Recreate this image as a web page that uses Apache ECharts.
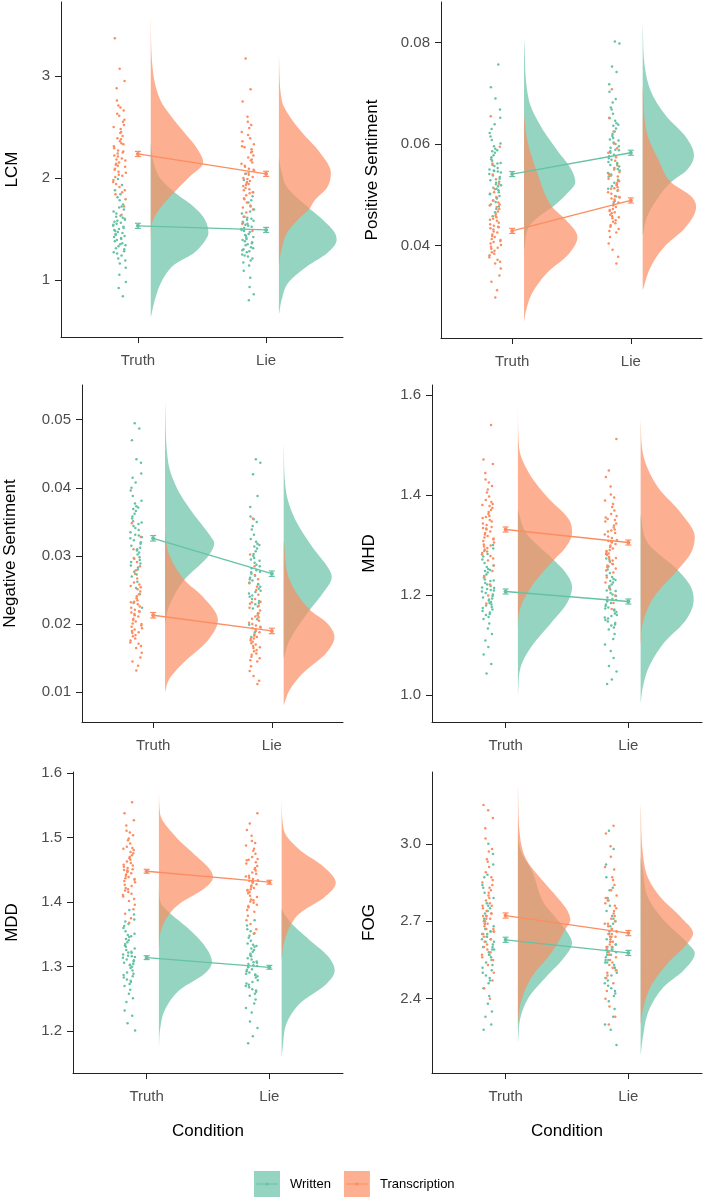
<!DOCTYPE html>
<html><head><meta charset="utf-8">
<script src="https://cdn.jsdelivr.net/npm/echarts@6/dist/echarts.min.js"></script>
<style>html,body{margin:0;padding:0;background:#fff}#c{width:703px;height:1199px}</style>
</head><body><div id="c"></div>
<script>
// ---------------- DATA ----------------
const conditions = ['Truth', 'Lie'];
const groups = ['Written', 'Transcription'];
const measures = ['LCM', 'Positive Sentiment', 'Negative Sentiment', 'MHD', 'MDD', 'FOG'];
const yTickValues = [[1,2,3],[0.04,0.06,0.08],[0.01,0.02,0.03,0.04,0.05],[1.0,1.2,1.4,1.6],[1.2,1.3,1.4,1.5,1.6],[2.4,2.7,3.0]];
const yTickDecimals = [0,2,2,1,1,1];
const yLimits = [[0.44,3.725],[0.0218,0.088],[0.00563,0.0551],[0.946,1.62],[1.135,1.602],[2.112,3.278]];

// group means (Truth, Lie) and standard errors
const meanWritten = [[1.53,1.49],[0.0541,0.0583],[0.0326,0.0274],[1.207,1.187],[1.314,1.299],[2.628,2.577]];
const meanTranscription = [[2.235,2.04],[0.0429,0.0489],[0.0213,0.0190],[1.331,1.305],[1.448,1.431],[2.722,2.654]];
const seWritten = [[0.025,0.025],[0.0005,0.0005],[0.0004,0.0004],[0.005,0.005],[0.003,0.003],[0.01,0.01]];
const seTranscription = [[0.025,0.025],[0.0005,0.0005],[0.0004,0.0004],[0.005,0.005],[0.003,0.003],[0.01,0.01]];

// raw observations (read from the jittered strips)
const LCM_written_truth = [1.53,1.41,1.62,1.28,1.71,1.49,1.36,1.58,1.19,1.84,1.45,1.52,1.33,1.67,1.24,1.55,1.43,1.78,1.38,1.61,1.47,1.12,1.56,1.31,1.69,1.50,1.42,1.93,1.26,1.59,1.35,1.48,1.74,1.21,1.54,1.40,1.65,1.30,1.05,1.57,1.46,1.81,1.34,1.63,1.44,1.51,0.92,1.27,1.72,1.39,1.60,1.16,1.88,0.84,1.99,0.98];
const LCM_written_lie = [1.48,1.36,1.59,1.25,1.67,1.44,1.31,1.53,1.17,1.78,1.41,1.50,1.28,1.62,1.21,1.55,1.39,1.72,1.34,1.58,1.45,1.09,1.52,1.27,1.65,1.47,1.38,1.86,1.23,1.56,1.32,1.43,1.69,1.14,1.51,1.37,1.61,1.29,1.02,1.54,1.42,1.76,1.30,1.60,1.40,1.49,0.93,1.24,1.82,1.35,1.57,1.19,2.04,0.86,0.80,1.98];
const LCM_transc_truth = [2.21,2.05,2.38,1.94,2.52,2.15,2.29,1.86,2.63,2.11,2.44,2.01,2.26,2.71,1.98,2.34,2.18,2.57,1.91,2.08,2.41,2.24,1.79,2.48,2.13,2.66,2.03,2.31,2.19,2.76,1.88,2.36,2.09,2.55,2.27,1.96,2.45,2.14,1.72,2.61,2.22,2.02,2.39,2.17,2.69,1.84,2.33,2.06,2.50,1.64,2.88,2.95,3.07,3.37,2.25,2.12];
const LCM_transc_lie = [2.03,1.88,2.18,1.76,2.31,1.97,2.11,1.69,2.42,1.92,2.25,1.83,2.07,2.49,1.79,2.15,1.99,2.36,1.73,1.90,2.22,2.05,1.62,2.28,1.95,2.45,1.85,2.12,2.01,2.55,1.71,2.17,1.93,2.33,2.09,1.80,2.26,1.96,1.55,2.39,2.04,1.86,2.20,2.00,2.52,1.66,2.14,1.89,2.30,1.48,2.60,2.75,2.87,3.17,2.08,1.94];

const POS_written_truth = [.0541,.0512,.0567,.0498,.0583,.0529,.0553,.0489,.0601,.0521,.0574,.0505,.0547,.0622,.0494,.0559,.0535,.0591,.0481,.0517,.0578,.0544,.0472,.0608,.0526,.0639,.0502,.0562,.0538,.0652,.0486,.0570,.0509,.0596,.0550,.0493,.0586,.0532,.0466,.0615,.0546,.0514,.0563,.0524,.0630,.0477,.0557,.0501,.0588,.0458,.0668,.0690,.0712,.0757,.0548,.0519];
const POS_written_lie = [.0583,.0551,.0612,.0536,.0631,.0569,.0596,.0524,.0651,.0561,.0620,.0543,.0589,.0672,.0530,.0603,.0576,.0641,.0517,.0556,.0625,.0586,.0508,.0660,.0565,.0689,.0540,.0607,.0579,.0703,.0521,.0616,.0548,.0646,.0593,.0528,.0636,.0572,.0497,.0668,.0588,.0553,.0609,.0563,.0682,.0512,.0600,.0538,.0638,.0486,.0718,.0742,.0753,.0798,.0802,.0559];
const POS_transc_truth = [.0428,.0401,.0456,.0387,.0472,.0417,.0442,.0372,.0489,.0409,.0463,.0394,.0436,.0505,.0381,.0449,.0422,.0481,.0365,.0404,.0467,.0432,.0355,.0496,.0413,.0522,.0390,.0451,.0426,.0540,.0368,.0459,.0398,.0485,.0439,.0377,.0476,.0419,.0341,.0511,.0434,.0396,.0453,.0411,.0531,.0329,.0445,.0384,.0479,.0312,.0562,.0595,.0298,.0655,.0437,.0407];
const POS_transc_lie = [.0488,.0461,.0515,.0447,.0532,.0476,.0502,.0433,.0550,.0468,.0523,.0454,.0495,.0567,.0440,.0509,.0482,.0541,.0426,.0464,.0527,.0491,.0417,.0558,.0472,.0583,.0450,.0512,.0485,.0601,.0429,.0519,.0458,.0545,.0498,.0437,.0536,.0479,.0404,.0574,.0493,.0456,.0513,.0470,.0592,.0392,.0505,.0444,.0538,.0378,.0625,.0652,.0365,.0708,.0496,.0466];

const NEG_written_truth = [.0326,.0302,.0351,.0289,.0366,.0315,.0338,.0277,.0381,.0308,.0358,.0294,.0331,.0396,.0283,.0344,.0320,.0373,.0270,.0305,.0362,.0328,.0262,.0388,.0312,.0408,.0291,.0347,.0323,.0421,.0273,.0355,.0298,.0377,.0335,.0280,.0369,.0318,.0253,.0400,.0330,.0296,.0349,.0310,.0415,.0244,.0341,.0286,.0371,.0231,.0437,.0442,.0470,.0487,.0495,.0224];
const NEG_written_lie = [.0274,.0252,.0297,.0240,.0311,.0264,.0285,.0229,.0325,.0258,.0303,.0245,.0279,.0339,.0234,.0290,.0268,.0318,.0223,.0255,.0307,.0276,.0216,.0331,.0261,.0350,.0242,.0293,.0271,.0358,.0226,.0300,.0249,.0321,.0282,.0231,.0314,.0266,.0207,.0344,.0277,.0247,.0295,.0259,.0354,.0199,.0287,.0237,.0316,.0188,.0372,.0388,.0420,.0437,.0442,.0181];
const NEG_transc_truth = [.0213,.0194,.0235,.0182,.0248,.0204,.0224,.0171,.0261,.0198,.0241,.0187,.0218,.0274,.0176,.0229,.0208,.0254,.0165,.0196,.0244,.0215,.0158,.0267,.0201,.0285,.0184,.0232,.0211,.0297,.0168,.0238,.0190,.0258,.0221,.0173,.0251,.0206,.0151,.0279,.0217,.0188,.0233,.0200,.0291,.0145,.0226,.0179,.0256,.0139,.0310,.0328,.0132,.0348,.0219,.0192];
const NEG_transc_lie = [.0190,.0172,.0210,.0160,.0224,.0181,.0200,.0150,.0237,.0176,.0216,.0165,.0195,.0250,.0155,.0205,.0185,.0230,.0145,.0174,.0220,.0192,.0138,.0243,.0179,.0260,.0162,.0208,.0188,.0272,.0147,.0213,.0168,.0233,.0198,.0152,.0227,.0183,.0131,.0255,.0194,.0166,.0211,.0178,.0266,.0124,.0202,.0157,.0232,.0117,.0285,.0302,.0112,.0355,.0196,.0170];

const MHD_written_truth = [1.207,1.184,1.231,1.171,1.245,1.195,1.218,1.160,1.259,1.189,1.238,1.176,1.212,1.271,1.165,1.224,1.201,1.252,1.152,1.186,1.241,1.209,1.143,1.264,1.193,1.282,1.174,1.228,1.204,1.293,1.156,1.235,1.181,1.256,1.215,1.162,1.248,1.198,1.133,1.277,1.210,1.179,1.229,1.191,1.288,1.122,1.221,1.168,1.250,1.109,1.300,1.096,1.081,1.062,1.043,1.214];
const MHD_written_lie = [1.187,1.163,1.211,1.150,1.225,1.175,1.198,1.139,1.239,1.169,1.218,1.155,1.192,1.251,1.144,1.204,1.181,1.232,1.131,1.166,1.221,1.189,1.122,1.244,1.173,1.262,1.153,1.208,1.184,1.273,1.135,1.215,1.160,1.236,1.195,1.141,1.228,1.178,1.112,1.257,1.190,1.158,1.209,1.171,1.268,1.101,1.201,1.147,1.230,1.088,1.282,1.074,1.058,1.047,1.031,1.022];
const MHD_transc_truth = [1.331,1.305,1.358,1.291,1.374,1.318,1.343,1.278,1.390,1.311,1.366,1.297,1.336,1.405,1.284,1.350,1.324,1.382,1.269,1.308,1.370,1.333,1.259,1.397,1.315,1.418,1.294,1.354,1.327,1.431,1.273,1.362,1.301,1.386,1.340,1.281,1.378,1.321,1.248,1.411,1.334,1.299,1.356,1.313,1.425,1.236,1.347,1.287,1.380,1.221,1.444,1.462,1.199,1.471,1.540,1.183];
const MHD_transc_lie = [1.305,1.280,1.331,1.266,1.347,1.293,1.317,1.253,1.362,1.286,1.339,1.272,1.310,1.376,1.259,1.324,1.299,1.355,1.245,1.283,1.343,1.307,1.235,1.369,1.290,1.389,1.269,1.327,1.302,1.401,1.249,1.335,1.276,1.358,1.314,1.256,1.350,1.296,1.225,1.382,1.308,1.274,1.329,1.288,1.395,1.214,1.321,1.262,1.352,1.199,1.417,1.436,1.184,1.449,1.512,1.172];

const MDD_written_truth = [1.314,1.298,1.331,1.289,1.341,1.306,1.321,1.280,1.351,1.302,1.335,1.285,1.317,1.360,1.276,1.326,1.310,1.346,1.270,1.300,1.338,1.315,1.264,1.355,1.304,1.366,1.283,1.323,1.311,1.373,1.273,1.333,1.294,1.349,1.319,1.278,1.343,1.308,1.258,1.363,1.316,1.291,1.328,1.303,1.370,1.251,1.322,1.287,1.347,1.245,1.381,1.388,1.232,1.224,1.212,1.201];
const MDD_written_lie = [1.299,1.283,1.316,1.274,1.326,1.291,1.306,1.265,1.336,1.287,1.320,1.270,1.302,1.345,1.261,1.311,1.295,1.331,1.255,1.285,1.323,1.300,1.249,1.340,1.289,1.351,1.268,1.308,1.296,1.358,1.258,1.318,1.279,1.334,1.304,1.263,1.328,1.293,1.243,1.348,1.301,1.276,1.313,1.288,1.355,1.236,1.307,1.272,1.332,1.229,1.364,1.372,1.215,1.205,1.192,1.181];
const MDD_transc_truth = [1.448,1.431,1.466,1.422,1.476,1.439,1.455,1.413,1.486,1.435,1.470,1.418,1.451,1.496,1.409,1.461,1.443,1.481,1.402,1.433,1.473,1.449,1.396,1.491,1.437,1.504,1.416,1.458,1.445,1.511,1.405,1.468,1.427,1.484,1.453,1.411,1.478,1.441,1.389,1.499,1.450,1.425,1.463,1.436,1.508,1.382,1.457,1.420,1.483,1.375,1.519,1.527,1.368,1.538,1.555,1.447];
const MDD_transc_lie = [1.431,1.414,1.449,1.404,1.460,1.422,1.438,1.396,1.470,1.418,1.453,1.401,1.434,1.480,1.392,1.444,1.426,1.465,1.385,1.416,1.456,1.432,1.379,1.475,1.420,1.488,1.399,1.441,1.428,1.495,1.388,1.451,1.410,1.467,1.436,1.394,1.462,1.424,1.372,1.483,1.433,1.408,1.446,1.419,1.492,1.366,1.440,1.403,1.466,1.358,1.503,1.512,1.352,1.522,1.538,1.430];

const FOG_written_truth = [2.63,2.57,2.69,2.53,2.74,2.60,2.66,2.49,2.79,2.58,2.71,2.51,2.64,2.84,2.47,2.67,2.61,2.76,2.44,2.56,2.72,2.62,2.41,2.81,2.59,2.88,2.50,2.66,2.62,2.92,2.46,2.70,2.55,2.77,2.65,2.48,2.73,2.60,2.38,2.83,2.63,2.54,2.68,2.57,2.87,2.35,2.65,2.52,2.75,2.33,2.96,3.00,2.28,2.30,2.64,2.59];
const FOG_written_lie = [2.58,2.52,2.64,2.48,2.69,2.55,2.61,2.44,2.74,2.53,2.66,2.46,2.59,2.79,2.42,2.62,2.56,2.71,2.39,2.51,2.67,2.57,2.36,2.76,2.54,2.83,2.45,2.61,2.57,2.87,2.41,2.65,2.50,2.72,2.60,2.43,2.68,2.55,2.33,2.78,2.58,2.49,2.63,2.52,2.82,2.30,2.60,2.47,2.70,2.28,2.92,2.98,3.05,2.22,2.59,2.54];
const FOG_transc_truth = [2.72,2.66,2.79,2.62,2.84,2.69,2.75,2.58,2.89,2.67,2.81,2.60,2.73,2.94,2.56,2.77,2.70,2.86,2.53,2.65,2.82,2.71,2.50,2.91,2.68,2.98,2.59,2.76,2.71,3.02,2.55,2.80,2.64,2.87,2.74,2.57,2.83,2.69,2.47,2.93,2.72,2.63,2.78,2.66,2.97,2.44,2.76,2.61,2.85,2.40,3.06,3.10,3.13,3.15,2.73,2.67];
const FOG_transc_lie = [2.65,2.59,2.72,2.55,2.77,2.62,2.68,2.51,2.82,2.60,2.74,2.53,2.66,2.87,2.49,2.70,2.63,2.79,2.46,2.58,2.75,2.64,2.43,2.84,2.61,2.91,2.52,2.69,2.64,2.95,2.48,2.73,2.57,2.80,2.67,2.50,2.76,2.62,2.40,2.86,2.65,2.56,2.71,2.59,2.90,2.37,2.69,2.54,2.78,2.33,2.99,3.04,3.07,2.30,2.66,2.60];

// density outlines: [value, relative density (1 = widest slab)]
const LCM_dens_written_truth = [[2.34,0],[2.15,.05],[2.0,.16],[1.86,.41],[1.72,.74],[1.60,.93],[1.46,1.0],[1.36,.91],[1.26,.74],[1.15,.41],[1.07,.28],[0.95,.16],[0.80,.07],[0.63,0]];
const LCM_dens_written_lie = [[2.2,0],[2.05,.05],[1.91,.14],[1.70,.53],[1.59,.76],[1.46,.97],[1.39,1.0],[1.26,.83],[1.13,.48],[0.97,.16],[0.81,.05],[0.66,0]];
const LCM_dens_transc_truth = [[3.58,0],[3.09,.03],[2.76,.17],[2.60,.36],[2.44,.59],[2.30,.79],[2.15,.91],[2.01,.67],[1.86,.41],[1.70,.16],[1.55,.02],[1.40,0]];
const LCM_dens_transc_lie = [[3.21,0],[2.76,.05],[2.60,.19],[2.44,.41],[2.25,.71],[2.05,.90],[1.91,.84],[1.78,.62],[1.70,.53],[1.58,.31],[1.46,.14],[1.26,.03],[1.15,0]];

const POS_dens_written_truth = [[.0809,0],[.0687,.09],[.0634,.32],[.0588,.62],[.0549,.89],[.0525,.96],[.0503,.81],[.0476,.53],[.0456,.26],[.0436,.09],[.039,0]];
const POS_dens_written_lie = [[.0838,0],[.0752,.04],[.0700,.17],[.0654,.45],[.0614,.81],[.0578,.96],[.0549,.83],[.0525,.53],[.049,.26],[.0456,.08],[.042,0]];
const POS_dens_transc_truth = [[.066,0],[.0608,.06],[.0543,.25],[.0476,.53],[.0450,.79],[.0417,1.0],[.0385,.85],[.0346,.43],[.0306,.15],[.0273,.04],[.025,0]];
const POS_dens_transc_lie = [[.0715,0],[.0622,.08],[.0568,.30],[.0525,.53],[.0496,.92],[.0476,1.0],[.0437,.81],[.0397,.40],[.0358,.15],[.0312,0]];

const NEG_dens_written_truth = [[.0527,0],[.0437,.06],[.0397,.24],[.0363,.52],[.0328,.86],[.0319,.92],[.0299,.80],[.0265,.36],[.0225,.07],[.020,0]];
const NEG_dens_written_lie = [[.0466,0],[.0397,.04],[.0353,.22],[.0313,.54],[.0279,.86],[.0269,.90],[.0245,.73],[.0221,.49],[.0176,.11],[.015,0]];
const NEG_dens_transc_truth = [[.0335,0],[.0304,.07],[.0265,.36],[.0240,.71],[.0206,.99],[.0176,.80],[.0143,.34],[.0118,.07],[.0100,0]];
const NEG_dens_transc_lie = [[.0323,0],[.0265,.11],[.0221,.49],[.0201,.82],[.0181,.95],[.0157,.79],[.0128,.36],[.0103,.11],[.0081,0]];

const MHD_dens_written_truth = [[1.37,0],[1.324,.15],[1.27,.65],[1.244,.87],[1.216,.98],[1.184,.89],[1.144,.60],[1.096,.24],[1.056,.05],[1.0,0]];
const MHD_dens_written_lie = [[1.36,0],[1.304,.13],[1.25,.67],[1.216,.91],[1.19,.96],[1.15,.82],[1.104,.42],[1.056,.15],[1.016,.04],[0.984,0]];
const MHD_dens_transc_truth = [[1.58,0],[1.496,.02],[1.444,.20],[1.396,.53],[1.35,.93],[1.324,.98],[1.296,.87],[1.27,.65],[1.216,.24],[1.164,.02],[1.13,0]];
const MHD_dens_transc_lie = [[1.55,0],[1.484,.04],[1.416,.31],[1.364,.73],[1.316,.98],[1.284,.91],[1.25,.67],[1.196,.24],[1.144,.04],[1.10,0]];

const MDD_dens_written_truth = [[1.42,0],[1.398,.04],[1.383,.20],[1.357,.56],[1.331,.84],[1.307,.96],[1.29,.84],[1.264,.38],[1.233,.11],[1.202,.02],[1.174,0]];
const MDD_dens_written_lie = [[1.39,0],[1.383,.04],[1.367,.18],[1.341,.51],[1.315,.85],[1.294,.96],[1.274,.82],[1.243,.33],[1.212,.09],[1.175,.02],[1.16,0]];
const MDD_dens_transc_truth = [[1.581,0],[1.538,.02],[1.501,.31],[1.476,.62],[1.45,.93],[1.439,.98],[1.423,.85],[1.398,.38],[1.383,.20],[1.357,.04],[1.33,0]];
const MDD_dens_transc_lie = [[1.558,0],[1.512,.04],[1.481,.33],[1.455,.76],[1.43,.98],[1.408,.78],[1.383,.33],[1.367,.18],[1.336,.04],[1.31,0]];

const FOG_dens_written_truth = [[3.05,0],[3.0,.02],[2.963,.07],[2.897,.25],[2.77,.47],[2.72,.66],[2.665,.87],[2.615,.98],[2.56,.84],[2.484,.51],[2.406,.20],[2.33,.05],[2.23,0]];
const FOG_dens_written_lie = [[2.95,0],[2.897,.04],[2.793,.13],[2.704,.42],[2.615,.85],[2.576,.98],[2.51,.78],[2.446,.42],[2.355,.15],[2.25,.04],[2.18,0]];
const FOG_dens_transc_truth = [[3.227,0],[3.025,.04],[2.936,.16],[2.859,.44],[2.793,.71],[2.743,.89],[2.704,.95],[2.673,.87],[2.576,.60],[2.484,.25],[2.383,.05],[2.30,0]];
const FOG_dens_transc_lie = [[3.157,0],[2.963,.04],[2.87,.13],[2.793,.36],[2.715,.73],[2.653,.95],[2.615,.85],[2.537,.49],[2.446,.18],[2.355,.04],[2.30,0]];

// ---------------- ASSEMBLY ----------------
const points = [
  [[LCM_written_truth, LCM_written_lie], [LCM_transc_truth, LCM_transc_lie]],
  [[POS_written_truth, POS_written_lie], [POS_transc_truth, POS_transc_lie]],
  [[NEG_written_truth, NEG_written_lie], [NEG_transc_truth, NEG_transc_lie]],
  [[MHD_written_truth, MHD_written_lie], [MHD_transc_truth, MHD_transc_lie]],
  [[MDD_written_truth, MDD_written_lie], [MDD_transc_truth, MDD_transc_lie]],
  [[FOG_written_truth, FOG_written_lie], [FOG_transc_truth, FOG_transc_lie]]
];
const densities = [
  [[LCM_dens_written_truth, LCM_dens_written_lie], [LCM_dens_transc_truth, LCM_dens_transc_lie]],
  [[POS_dens_written_truth, POS_dens_written_lie], [POS_dens_transc_truth, POS_dens_transc_lie]],
  [[NEG_dens_written_truth, NEG_dens_written_lie], [NEG_dens_transc_truth, NEG_dens_transc_lie]],
  [[MHD_dens_written_truth, MHD_dens_written_lie], [MHD_dens_transc_truth, MHD_dens_transc_lie]],
  [[MDD_dens_written_truth, MDD_dens_written_lie], [MDD_dens_transc_truth, MDD_dens_transc_lie]],
  [[FOG_dens_written_truth, FOG_dens_written_lie], [FOG_dens_transc_truth, FOG_dens_transc_lie]]
];
const means = [meanWritten, meanTranscription];
const ses = [seWritten, seTranscription];

// ---------------- LAYOUT / STYLE ----------------
const FONT = '"Liberation Sans", Arial, sans-serif';
const LINE = ['#66C2A5', '#FC8D62'];
const FILL = ['rgba(102,194,165,0.7)', 'rgba(252,141,98,0.7)'];
const GRIDS = [
  {left: 61, top: 2, width: 282, height: 335},
  {left: 441, top: 2, width: 261, height: 336},
  {left: 82, top: 385, width: 261, height: 337},
  {left: 432, top: 385, width: 270, height: 337},
  {left: 73, top: 772, width: 270, height: 301},
  {left: 432, top: 772, width: 270, height: 301}
];
const NAME_GAP = [40, 60, 63, 54, 52, 54];
const X_MIN = 0.4, X_MAX = 2.6;
const SLAB_OFFSET = 0.1, SLAB = 0.45;
const JIT_CENTER = -0.143, JIT_WIDTH = 0.1;
const AXIS_COLOR = '#222';
const LEG_LEFT = 254, LEG_TOP = 1171, LEG_KEY = 26;

// smooth outline of a slab (monotone cubic through the read outline points, drawing only)
function slabOutline(d, steps) {
  const n = d.length, xs = d.map(q => q[0]), ys = d.map(q => q[1]);
  const h = [], s = [], m = new Array(n);
  for (let i = 0; i < n - 1; i++) { h[i] = xs[i + 1] - xs[i]; s[i] = (ys[i + 1] - ys[i]) / h[i]; }
  m[0] = s[0]; m[n - 1] = s[n - 2];
  for (let i = 1; i < n - 1; i++) m[i] = (s[i - 1] * s[i] <= 0) ? 0 : (s[i - 1] + s[i]) / 2;
  for (let i = 0; i < n - 1; i++) {
    if (s[i] === 0) { m[i] = 0; m[i + 1] = 0; continue; }
    const a = m[i] / s[i], b = m[i + 1] / s[i], r = a * a + b * b;
    if (r > 9) { const t = 3 / Math.sqrt(r); m[i] = t * a * s[i]; m[i + 1] = t * b * s[i]; }
  }
  const out = [];
  for (let i = 0; i < n - 1; i++) {
    for (let k = 0; k < steps; k++) {
      const t = k / steps, t2 = t * t, t3 = t2 * t;
      const y = (2 * t3 - 3 * t2 + 1) * ys[i] + (t3 - 2 * t2 + t) * h[i] * m[i] +
                (-2 * t3 + 3 * t2) * ys[i + 1] + (t3 - t2) * h[i] * m[i + 1];
      out.push([xs[i] + t * h[i], Math.max(0, y)]);
    }
  }
  out.push([xs[n - 1], ys[n - 1]]);
  return out;
}

const option = {
  animation: false,
  backgroundColor: '#fff',
  grid: GRIDS.map(g => Object.assign({containLabel: false}, g)),
  xAxis: [], yAxis: [], series: [],
  legend: {
    data: groups.map((g, k) => ({name: g, itemStyle: {color: FILL[k], borderWidth: 0}})),
    icon: 'rect', itemWidth: LEG_KEY, itemHeight: LEG_KEY, itemGap: 13, padding: 0,
    left: LEG_LEFT, top: LEG_TOP, selectedMode: false,
    textStyle: {fontFamily: FONT, fontSize: 13, color: '#000', padding: [0, 0, 0, 5]}
  }
};

measures.forEach((m, p) => {
  const bottomRow = p >= 4;
  option.xAxis.push({
    type: 'value', gridIndex: p, min: X_MIN, max: X_MAX,
    name: bottomRow ? 'Condition' : '', nameLocation: 'middle', nameGap: 50,
    nameTextStyle: {fontFamily: FONT, fontSize: 17, color: '#000'},
    axisLine: {show: true, onZero: false, lineStyle: {color: AXIS_COLOR, width: 1}},
    axisTick: {show: true, length: 6, customValues: [1, 2], lineStyle: {color: AXIS_COLOR, width: 1}},
    axisLabel: {customValues: [1, 2], margin: 16, fontFamily: FONT, fontSize: 15, color: '#4D4D4D',
      formatter: v => conditions[Math.round(v) - 1]},
    splitLine: {show: false}
  });
  option.yAxis.push({
    type: 'value', gridIndex: p, min: yLimits[p][0], max: yLimits[p][1],
    name: m, nameLocation: 'middle', nameRotate: 90, nameGap: NAME_GAP[p],
    nameTextStyle: {fontFamily: FONT, fontSize: 17, color: '#000'},
    axisLine: {show: true, onZero: false, lineStyle: {color: AXIS_COLOR, width: 1}},
    axisTick: {show: true, length: 6, customValues: yTickValues[p], lineStyle: {color: AXIS_COLOR, width: 1}},
    axisLabel: {customValues: yTickValues[p], margin: 11, fontFamily: FONT, fontSize: 15, color: '#4D4D4D',
      formatter: v => Number(v).toFixed(yTickDecimals[p])},
    splitLine: {show: false}
  });

  // half-violin densities (Written first, Transcription drawn over it)
  groups.forEach((g, k) => {
    const dens = densities[p][k];
    option.series.push({
      type: 'custom', name: g, xAxisIndex: p, yAxisIndex: p, z: 1 + k, silent: true,
      itemStyle: {color: FILL[k]},
      data: conditions.map((c, ci) => [ci + 1, means[k][p][ci]]),
      renderItem: (params, api) => {
        const ci = params.dataIndex;
        const base = ci + 1 + SLAB_OFFSET;
        const pts = slabOutline(dens[ci], 10).map(d => api.coord([base + d[1] * SLAB, d[0]]));
        return {type: 'polygon', shape: {points: pts}, style: {fill: FILL[k], stroke: null}};
      }
    });
  });

  // jittered raw points
  groups.forEach((g, k) => {
    const data = [];
    conditions.forEach((c, ci) => {
      points[p][k][ci].forEach((v, i) => {
        const f = ((i * 0.6180339 + k * 0.37 + ci * 0.21) % 1) - 0.5;
        data.push([ci + 1 + JIT_CENTER + f * JIT_WIDTH, v]);
      });
    });
    option.series.push({
      type: 'scatter', name: g, xAxisIndex: p, yAxisIndex: p, z: 5, silent: true,
      symbol: 'circle', symbolSize: 2.5, itemStyle: {color: LINE[k], opacity: 1},
      data
    });
  });

  // mean lines with error bars
  groups.forEach((g, k) => {
    option.series.push({
      type: 'line', name: g, xAxisIndex: p, yAxisIndex: p, z: 8, silent: true,
      symbol: 'circle', symbolSize: 4, showSymbol: true,
      lineStyle: {color: LINE[k], width: 1.3}, itemStyle: {color: LINE[k]},
      data: conditions.map((c, ci) => [ci + 1, means[k][p][ci]])
    });
    option.series.push({
      type: 'custom', name: g, xAxisIndex: p, yAxisIndex: p, z: 9, silent: true,
      itemStyle: {color: LINE[k]},
      encode: {x: 0, y: [1, 2]},
      data: conditions.map((c, ci) => [ci + 1, means[k][p][ci] - ses[k][p][ci], means[k][p][ci] + ses[k][p][ci]]),
      renderItem: (params, api) => {
        const lo = api.coord([api.value(0), api.value(1)]);
        const hi = api.coord([api.value(0), api.value(2)]);
        const st = {stroke: LINE[k], lineWidth: 1.2};
        return {type: 'group', children: [
          {type: 'line', shape: {x1: lo[0], y1: lo[1], x2: hi[0], y2: hi[1]}, style: st},
          {type: 'line', shape: {x1: lo[0] - 3, y1: lo[1], x2: lo[0] + 3, y2: lo[1]}, style: st},
          {type: 'line', shape: {x1: hi[0] - 3, y1: hi[1], x2: hi[0] + 3, y2: hi[1]}, style: st}
        ]};
      }
    });
  });
});

const chart = echarts.init(document.getElementById('c'), null, {renderer: 'canvas'});
chart.setOption(option);

// line-and-point glyph over each legend key (placed from the laid-out legend)
const legendView = chart.getViewOfComponentModel(chart.getModel().getComponent('legend'));
const glyphs = [];
if (legendView && legendView.getContentGroup) {
  const content = legendView.getContentGroup();
  content.children().forEach((item, k) => {
    if (k >= groups.length) return;
    const gx = content.x + (item.x || 0), gy = content.y + (item.y || 0);
    const cx = legendView.group.x + gx + LEG_KEY / 2, cy = legendView.group.y + gy + LEG_KEY / 2;
    glyphs.push({type: 'line', z: 100, silent: true, shape: {x1: cx - 11, y1: cy, x2: cx + 11, y2: cy}, style: {stroke: LINE[k], lineWidth: 1}});
    glyphs.push({type: 'circle', z: 100, silent: true, shape: {cx: cx, cy: cy, r: 1.6}, style: {fill: LINE[k]}});
  });
}
chart.setOption({graphic: glyphs});
</script></body></html>
